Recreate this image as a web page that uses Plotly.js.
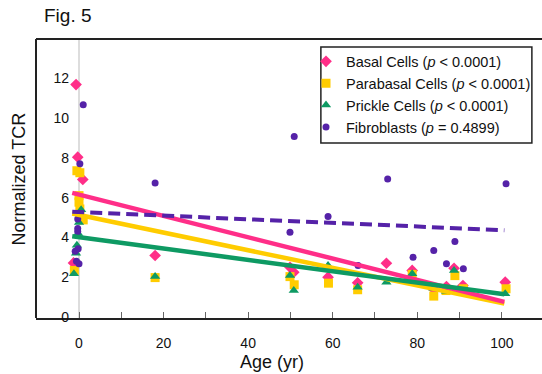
<!DOCTYPE html>
<html>
<head>
<meta charset="utf-8">
<script src="https://cdn.plot.ly/plotly-3.0.1.min.js"></script>
<style>html,body{margin:0;padding:0;background:#fff;}#chart{width:542px;height:374px;}</style>
</head>
<body>
<div id="chart"></div>
<script>
// ---- data ----
const basalAge = [-0.7, -0.3, 0.9, -1.3, 18, 49.9, 50.8, 58.9, 65.9, 72.7, 78.8, 83.9, 86.9, 88.7, 90.8, 100.8];
const basalTCR = [11.68, 8.03, 6.91, 2.72, 3.09, 2.5, 2.25, 2.0, 1.72, 2.7, 2.34, 1.4, 1.53, 2.45, 1.58, 1.75];

const parabasalAge = [-0.5, 0.2, 0.0, 0.0, 0.2, 1.0, -1.1, 18, 49.9, 50.9, 59, 65.9, 78.8, 83.9, 86.8, 88.9, 90.9, 101];
const parabasalTCR = [7.35, 7.25, 6.1, 5.77, 5.43, 4.88, 2.34, 1.98, 2.03, 1.62, 1.7, 1.37, 2.14, 1.05, 1.33, 2.08, 1.42, 1.42];

const prickleAge = [0.5, 0.0, -0.2, -0.5, -0.7, -1.2, 18, 49.9, 50.8, 58.9, 65.9, 72.7, 78.8, 83.8, 86.8, 88.7, 100.8];
const prickleTCR = [5.39, 4.75, 4.2, 3.6, 3.2, 2.17, 2.04, 2.08, 1.33, 2.59, 1.5, 1.75, 2.17, 1.45, 1.3, 2.34, 1.17];

const fibroAge = [1.0, 0.2, -0.3, -0.3, -0.3, -0.9, -0.2, -0.6, 0.0, 18, 50.9, 49.9, 58.9, 66.0, 73.0, 79.0, 83.9, 86.9, 88.9, 90.9, 101];
const fibroTCR = [10.66, 7.7, 4.93, 4.45, 4.3, 3.31, 3.43, 2.8, 2.67, 6.74, 9.07, 4.26, 5.05, 2.59, 6.94, 3.0, 3.34, 2.67, 3.79, 2.42, 6.69];

// regression line end points
const fitAge = [-1.6, 100.6];
const basalFit = [6.24, 0.76];
const parabasalFit = [5.2, 0.67];
const prickleFit = [4.06, 1.14];
const fibroFit = [5.29, 4.36];

const seriesNames = [
  'Basal Cells (<i>p</i> &lt; 0.0001)',
  'Parabasal Cells (<i>p</i> &lt; 0.0001)',
  'Prickle Cells (<i>p</i> &lt; 0.0001)',
  'Fibroblasts (<i>p</i> = 0.4899)'
];
const xTicks = [0, 20, 40, 60, 80, 100];
const yTicks = [0, 2, 4, 6, 8, 10, 12];

// ---- styles ----
const PINK = '#FF2E88', YEL = '#FFCC00', GRN = '#0E9A63', PUR = '#5522A8';
const FONT = 'Arial, "Liberation Sans", sans-serif';

const traces = [
  {x: basalAge, y: basalTCR, mode: 'markers', name: seriesNames[0], type: 'scatter',
   marker: {symbol: 'diamond', size: 9, color: PINK}},
  {x: parabasalAge, y: parabasalTCR, mode: 'markers', name: seriesNames[1], type: 'scatter',
   marker: {symbol: 'square', size: 9, color: YEL}},
  {x: prickleAge, y: prickleTCR, mode: 'markers', name: seriesNames[2], type: 'scatter',
   marker: {symbol: 'triangle-up', size: 9, color: GRN}},
  {x: fibroAge, y: fibroTCR, mode: 'markers', name: seriesNames[3], type: 'scatter',
   marker: {symbol: 'circle', size: 7, color: PUR}},
  {x: fitAge, y: parabasalFit, mode: 'lines', showlegend: false, type: 'scatter', line: {color: YEL, width: 4.5}},
  {x: fitAge, y: basalFit, mode: 'lines', showlegend: false, type: 'scatter', line: {color: PINK, width: 4.5}},
  {x: fitAge, y: prickleFit, mode: 'lines', showlegend: false, type: 'scatter', line: {color: GRN, width: 4.5}},
  {x: fitAge, y: fibroFit, mode: 'lines', showlegend: false, type: 'scatter', line: {color: PUR, width: 4, dash: '12px,6px'}}
];

const layout = {
  width: 542, height: 374,
  margin: {l: 36, r: 0, t: 39, b: 56, pad: 0},
  paper_bgcolor: '#fff', plot_bgcolor: '#fff',
  font: {family: FONT, color: '#111', size: 14},
  showlegend: true,
  xaxis: {
    range: [-10.17, 109.5], showgrid: false,
    showline: true, linecolor: '#222', linewidth: 2,
    zeroline: true, zerolinecolor: '#dddddd', zerolinewidth: 1.5,
    tickvals: xTicks, ticktext: xTicks.map(String),
    ticks: 'inside', ticklen: 6, tickwidth: 1, tickcolor: '#666',
    minor: {dtick: 10, tick0: 0, ticks: 'inside', ticklen: 6, tickwidth: 1, tickcolor: '#666'},
    tickfont: {size: 14, family: FONT, color: '#111'},
    ticklabelstandoff: 11
  },
  yaxis: {
    anchor: 'free', position: 0.085, side: 'left',
    range: [-0.05, 13.97], showgrid: false, showline: false, zeroline: false,
    tickvals: yTicks, ticktext: yTicks.map(String), ticks: '',
    tickfont: {size: 14, family: FONT, color: '#111'},
    ticklabelstandoff: 10
  },
  legend: {
    x: 0.5336, xanchor: 'left', y: 0.977, yanchor: 'top',
    bgcolor: 'rgba(0,0,0,0)', borderwidth: 0,
    font: {size: 14.5, family: FONT, color: '#111'},
    itemwidth: 30
  },
  shapes: [
    {type: 'line', xref: 'paper', yref: 'paper', x0: 0, x1: 1, y0: 1, y1: 1, line: {color: '#222', width: 2}},
    {type: 'line', xref: 'paper', yref: 'paper', x0: 0, x1: 0, y0: 0, y1: 1, line: {color: '#222', width: 2}},
    {type: 'rect', xref: 'paper', yref: 'paper', x0: 0.563, x1: 0.980, y0: 0.627, y1: 0.971,
     fillcolor: '#fff', line: {color: '#222', width: 1.5}, layer: 'above'}
  ],
  annotations: [
    {text: 'Fig. 5', xref: 'paper', yref: 'paper', x: 0.0119, y: 1.084, xanchor: 'left', yanchor: 'middle',
     showarrow: false, font: {size: 19, family: FONT, color: '#111'}},
    {text: 'Normalized TCR', xref: 'paper', yref: 'paper', x: -0.0336, y: 0.5, xanchor: 'center', yanchor: 'middle',
     textangle: -90, showarrow: false, font: {size: 18, family: FONT, color: '#111'}},
    {text: 'Age (yr)', xref: 'paper', yref: 'paper', x: 0.466, y: -0.158, xanchor: 'center', yanchor: 'middle',
     showarrow: false, font: {size: 18, family: FONT, color: '#111'}}
  ]
};

Plotly.newPlot('chart', traces, layout, {displayModeBar: false, staticPlot: true});
</script>
</body>
</html>
